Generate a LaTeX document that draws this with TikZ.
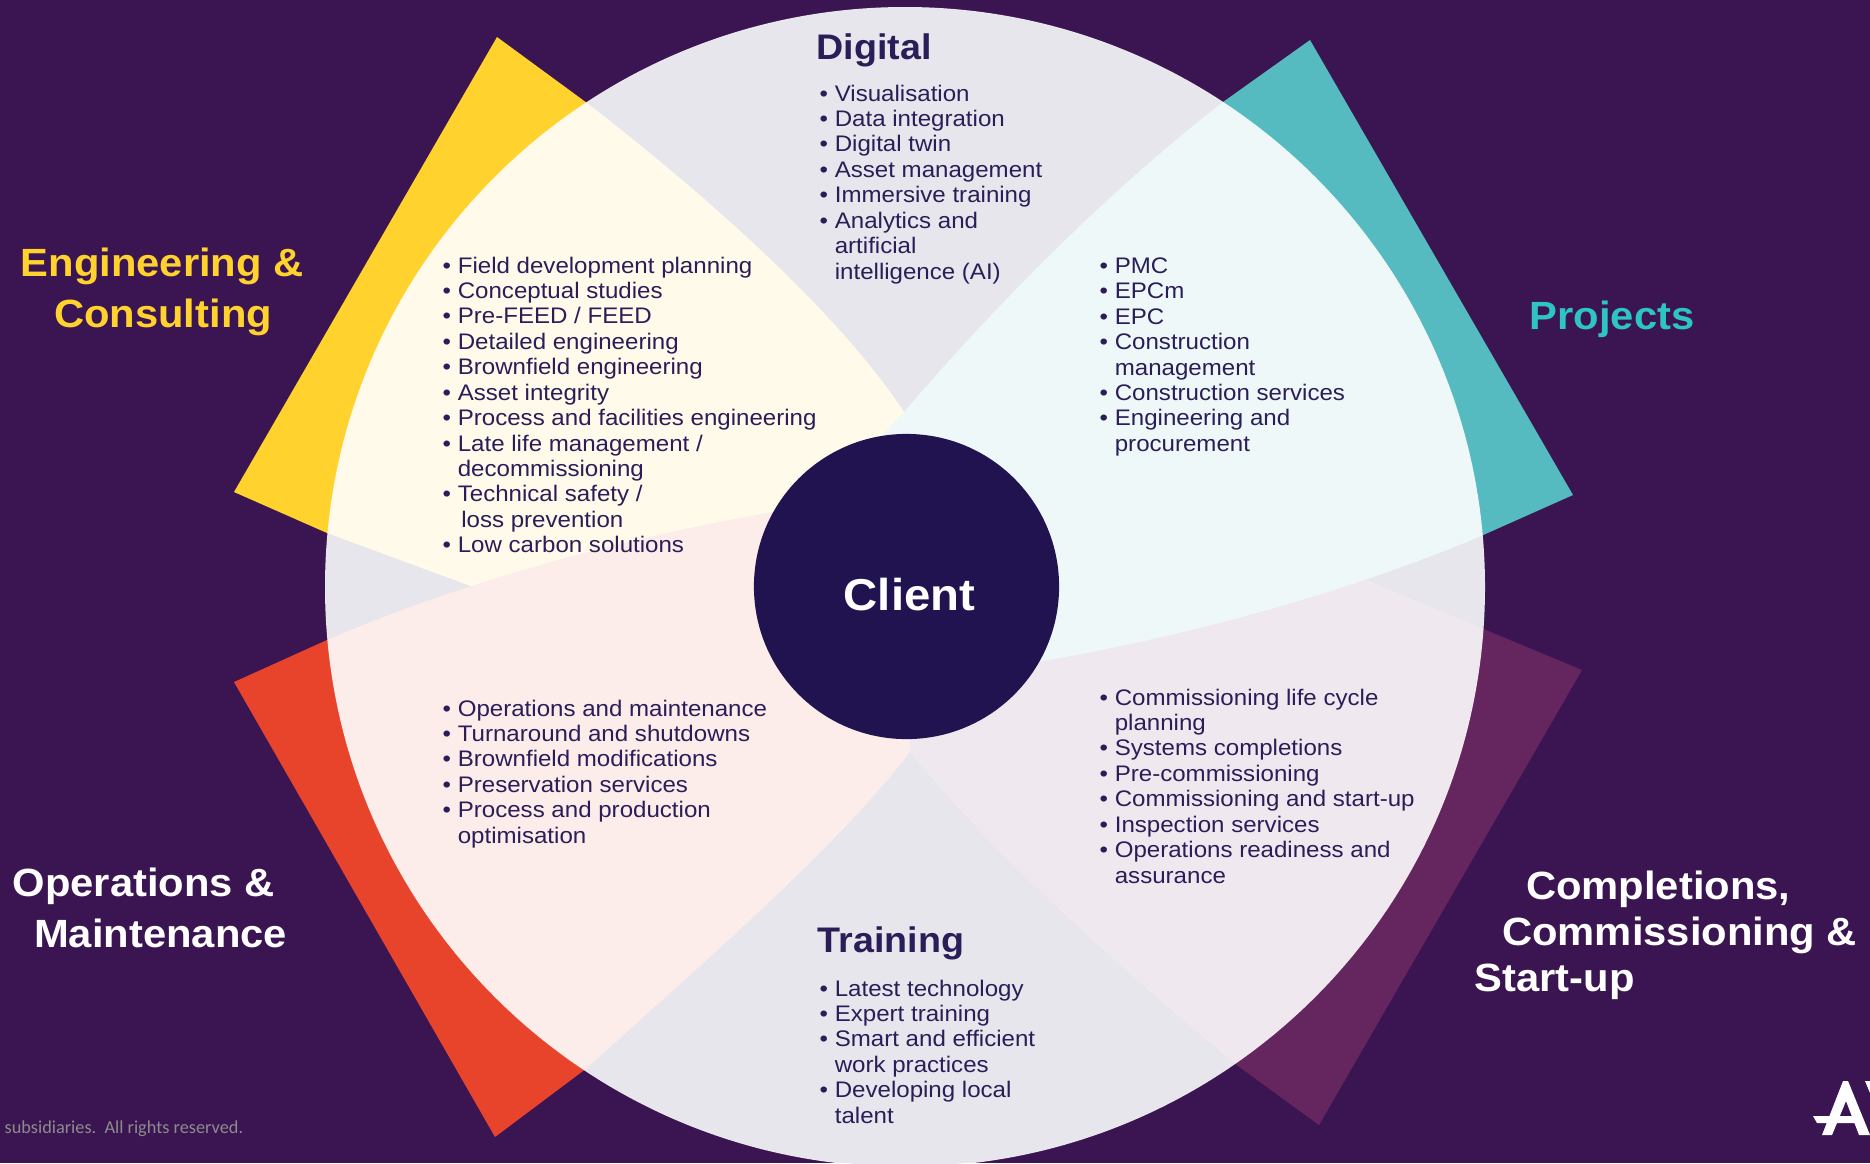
\documentclass[tikz,border=0pt]{standalone}
\usepackage{fontspec}
\setmainfont[FakeStretch=1.07]{Liberation Sans}
\newfontfamily\headfont[FakeStretch=1.06]{Liberation Sans}
\newfontfamily\notefont{Carlito}
\definecolor{plum}{HTML}{3B1452}
\definecolor{ringbase}{HTML}{050041}
\definecolor{ink}{HTML}{2B1D58}
\definecolor{navy}{HTML}{20134F}
\definecolor{sun}{HTML}{FFD22E}
\definecolor{lagoon}{HTML}{55BBC0}
\definecolor{lagoontext}{HTML}{2EC4C4}
\definecolor{ember}{HTML}{E8442C}
\definecolor{grape}{HTML}{65265F}
\newcommand{\bul}{\makebox[4.3pt][l]{•}}
\newcommand{\cont}{\hspace*{4.3pt}}
\tikzset{
  bulletlist/.style={anchor=north west, inner sep=0pt, align=left, text=ink,
    font=\fontsize{6.4}{7.23}\selectfont},
  sidehead/.style={anchor=north west, inner sep=0pt, align=left,
    font=\headfont\bfseries\fontsize{11.2}{14.5}\selectfont},
  ringhead/.style={anchor=base west, inner sep=0pt, text=ink,
    font=\headfont\bfseries\fontsize{10.1}{12}\selectfont}
}
\begin{document}
\begin{tikzpicture}[x=0.01cm, y=-0.01cm]
  \useasboundingbox (0, 0) rectangle (1870, 1163);
  \fill[plum] (0, 0) rectangle (1870, 1163);
  \fill[ringbase] (905, 587) circle (579);

  \fill[grape] (1582, 670) -- (1366, 580) -- (1250, 540) -- (1000, 600) -- (910, 700) -- (910, 752)
    .. controls (985, 845) and (1110, 960) .. (1238, 1066) -- (1319, 1125) -- cycle;
  \fill[sun] (497, 37) -- (587, 103) .. controls (680, 175) and (830, 300) .. (904, 412)
    -- (906, 500) -- (780, 560) -- (560, 620) -- (468, 585) -- (327, 533) -- (234, 492) -- cycle;
  \fill[ember] (234, 682) -- (327, 640) .. controls (480, 574) and (660, 529) .. (810, 506)
    -- (910, 700) -- (910, 752) .. controls (835, 850) and (700, 965) .. (587, 1068) -- (495, 1137) -- cycle;
  \fill[lagoon] (1310, 40) -- (1223, 102) .. controls (1110, 190) and (1000, 300) .. (904, 412)
    -- (860, 460) -- (950, 680) -- (1000, 668) .. controls (1150, 645) and (1330, 600) .. (1481, 536)
    -- (1573, 495) -- cycle;

  \fill[white, opacity=0.9] (905, 587) circle (580);
  \node[circle, fill=navy, minimum size=3.05cm, inner sep=0pt, text=white, text height=13.4pt, text depth=0pt,
    font=\headfont\bfseries\fontsize{12.7}{15}\selectfont] (client) at (906.5, 586.5) {\hspace*{1.7pt}Client};

  \node[sidehead, text=sun] (engineering) at (20, 247) {Engineering \&\\\hspace*{9.5pt}Consulting};
  \node[sidehead, text=lagoontext] (projects) at (1529, 300) {Projects};
  \node[sidehead, text=white] (operations) at (12, 867) {Operations \&\\\hspace*{6.1pt}Maintenance};
  \node[sidehead, text=white, font=\headfont\bfseries\fontsize{11.2}{13.1}\selectfont] (completions) at (1474, 870) {\hspace*{14.6pt}Completions,\\\hspace*{7.8pt}Commissioning \&\\Start-up};

  \node[ringhead] (digital) at (816, 59) {Digital};
  \node[ringhead] (training) at (817, 952) {Training};

  \node[bulletlist] (digitallist) at (819, 84) {\bul Visualisation\\\bul Data integration\\\bul Digital twin\\\bul Asset management\\\bul Immersive training\\\bul Analytics and\\\cont artificial\\\cont intelligence (AI)};
  \node[bulletlist] (engineeringlist) at (442, 256) {\bul Field development planning\\\bul Conceptual studies\\\bul Pre-FEED / FEED\\\bul Detailed engineering\\\bul Brownfield engineering\\\bul Asset integrity\\\bul Process and facilities engineering\\\bul Late life management /\\\cont decommissioning\\\bul Technical safety /\\\cont\hspace*{1pt}loss prevention\\\bul Low carbon solutions};
  \node[bulletlist] (projectslist) at (1099, 257) {\bul PMC\\\bul EPCm\\\bul EPC\\\bul Construction\\\cont management\\\bul Construction services\\\bul Engineering and\\\cont procurement};
  \node[bulletlist] (operationslist) at (442, 699) {\bul Operations and maintenance\\\bul Turnaround and shutdowns\\\bul Brownfield modifications\\\bul Preservation services\\\bul Process and production\\\cont optimisation};
  \node[bulletlist] (completionslist) at (1099, 688) {\bul Commissioning life cycle\\\cont planning\\\bul Systems completions\\\bul Pre-commissioning\\\bul Commissioning and start-up\\\bul Inspection services\\\bul Operations readiness and\\\cont assurance};
  \node[bulletlist] (traininglist) at (819, 979) {\bul Latest technology\\\bul Expert training\\\bul Smart and efficient\\\cont work practices\\\bul Developing local\\\cont talent};

  \node[anchor=base west, inner sep=0pt, text=black!45, font=\notefont\fontsize{5.2}{6.5}\selectfont] (rights) at (4, 1133) {subsidiaries.\ \ All rights reserved.};

  \fill[white] (1843, 1081) -- (1848, 1081) -- (1870, 1135) -- (1859, 1135) -- (1846, 1101)
    -- (1832, 1135) -- (1822, 1135) -- cycle;
  \fill[white] (1813, 1116) -- (1855, 1116) -- (1858, 1123) -- (1817, 1123) -- cycle;
  \fill[white] (1865, 1081) -- (1870, 1081) -- (1870, 1093) -- cycle;
\end{tikzpicture}
\end{document}
